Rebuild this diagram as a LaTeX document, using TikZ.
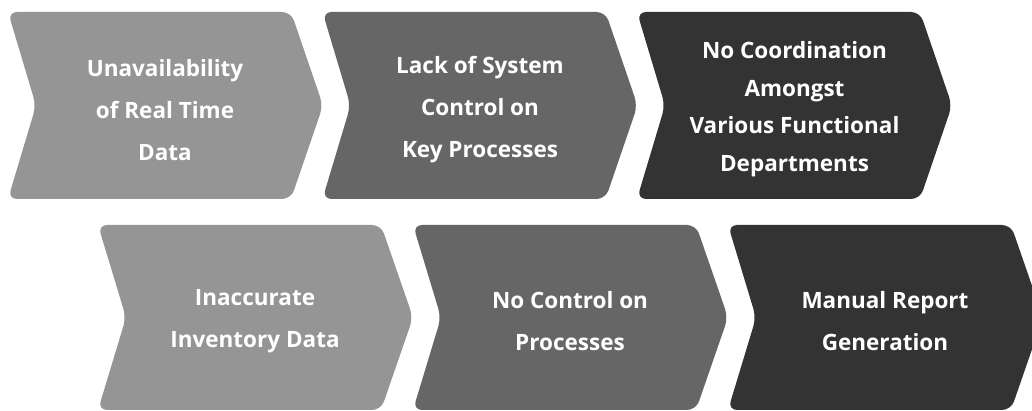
\documentclass[tikz,border=0pt]{standalone}
\usepackage{fontspec}
\setmainfont{Open Sans}
\definecolor{clight}{HTML}{959595}
\definecolor{cmid}{HTML}{666666}
\definecolor{cdark}{HTML}{333333}
\tikzset{
  chevshape/.style={rounded corners=9pt},
  chevtext/.style={text=white, align=center, inner sep=0pt, font=\fontsize{22.5}{42}\selectfont\bfseries},
  chevtexttight/.style={chevtext, font=\fontsize{22.5}{37.5}\selectfont\bfseries},
}
% #1 x0, #2 ytop, #3 ybottom, #4 colour
\newcommand\mychev[4]{%
  \fill[#4, chevshape] (#1,#2) -- (#1+283,#2) -- (#1+315,{(#2+#3)/2}) -- (#1+283,#3)
    -- (#1,#3) -- (#1+28,{(#2+#3)/2}) -- cycle;}
\begin{document}
\begin{tikzpicture}[x=1pt,y=1pt]
\useasboundingbox (0,0) rectangle (1032,411);
\clip (0,0) rectangle (1032,411);
\fill[white] (0,0) rectangle (1032,411);
% row 1
\mychev{8}{399}{212}{clight}
\mychev{322.5}{399}{212}{cmid}
\mychev{637}{399}{212}{cdark}
% row 2
\mychev{98}{186}{1}{clight}
\mychev{413}{186}{1}{cmid}
\mychev{728}{186}{1}{cdark}
% texts
\node[chevtext] (a) at (165,301) {Unavailability\\of Real Time\\Data};
\node[chevtext] (b) at (480,301) {Lack of System\\Control on\\Key Processes};
\node[chevtexttight] (c) at (794.5,302) {No Coordination\\Amongst\\Various Functional\\Departments};
\node[chevtext] (d) at (255,90) {Inaccurate\\Inventory Data};
\node[chevtext] (e) at (570,90) {No Control on\\Processes};
\node[chevtext] (f) at (885,90) {Manual Report\\Generation};
\end{tikzpicture}
\end{document}
